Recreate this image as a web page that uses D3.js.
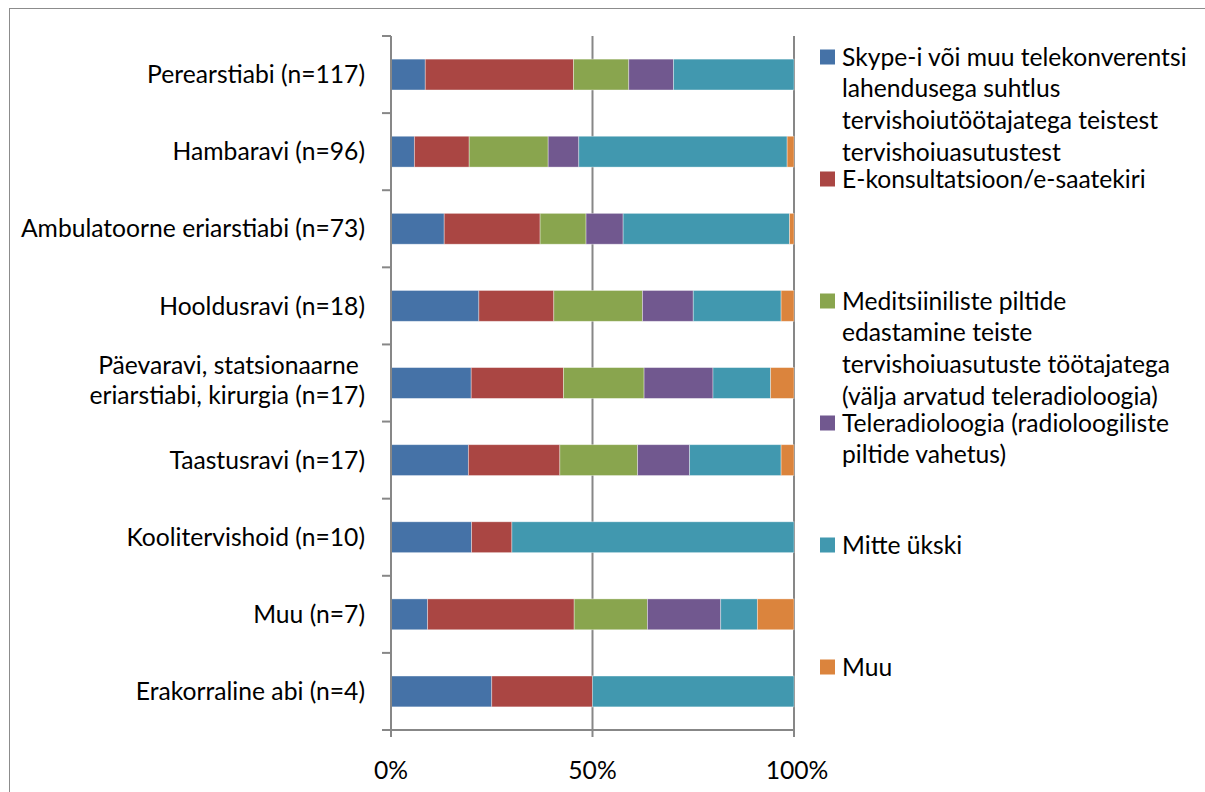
<!DOCTYPE html>
<html><head><meta charset="utf-8">
<script src="https://cdn.jsdelivr.net/npm/d3@7"></script>
<style>
html,body{margin:0;padding:0;background:#fff;}
text{font-family:Lato,"Open Sans",sans-serif;fill:#000;white-space:pre;}
</style></head>
<body><svg id="c" width="1205" height="792"></svg>
<script>
const categories = [
  ["Perearstiabi (n=117)"],
  ["Hambaravi (n=96)"],
  ["Ambulatoorne eriarstiabi (n=73)"],
  ["Hooldusravi (n=18)"],
  ["Päevaravi, statsionaarne ", "eriarstiabi, kirurgia (n=17)"],
  ["Taastusravi (n=17)"],
  ["Koolitervishoid (n=10)"],
  ["Muu (n=7)"],
  ["Erakorraline abi (n=4)"]
];
const seriesNames = [
  "Skype-i või muu telekonverentsi lahendusega suhtlus tervishoiutöötajatega teistest tervishoiuasutustest",
  "E-konsultatsioon/e-saatekiri",
  "Meditsiiniliste piltide edastamine teiste tervishoiuasutuste töötajatega (välja arvatud teleradioloogia)",
  "Teleradioloogia (radioloogiliste piltide vahetus)",
  "Mitte ükski",
  "Muu"
];
const legendLines = [
  ["Skype-i või muu telekonverentsi", "lahendusega suhtlus", "tervishoiutöötajatega teistest", "tervishoiuasutustest"],
  ["E-konsultatsioon/e-saatekiri"],
  ["Meditsiiniliste piltide", "edastamine teiste", "tervishoiuasutuste töötajatega", "(välja arvatud teleradioloogia)"],
  ["Teleradioloogia (radioloogiliste", "piltide vahetus)"],
  ["Mitte ükski"],
  ["Muu"]
];
const skype   = [8.5, 5.8, 13.2, 21.8, 19.9, 19.2, 20, 9.1, 25];
const ekons   = [36.8, 13.6, 23.8, 18.6, 22.9, 22.7, 10, 36.4, 25];
const medits  = [13.7, 19.6, 11.4, 22.0, 20.0, 19.3, 0, 18.2, 0];
const telerad = [11.1, 7.6, 9.2, 12.6, 17.1, 12.9, 0, 18.2, 0];
const mitte   = [29.9, 51.7, 41.3, 21.8, 14.3, 22.7, 70, 9.1, 50];
const muu     = [0, 1.7, 1.1, 3.2, 5.8, 3.2, 0, 9.1, 0];
const xTicks = [0, 0.5, 1];
const xTickLabels = ["0%", "50%", "100%"];
const colors = ["#4572A7", "#AA4643", "#89A54E", "#71588F", "#4198AF", "#DB843D"];

const seriesValues = [skype, ekons, medits, telerad, mitte, muu];
const keys = seriesNames.map((d, i) => "s" + i);
const rows = categories.map((c, i) => {
  const r = {cat: c.join("")};
  keys.forEach((k, j) => r[k] = seriesValues[j][i]);
  return r;
});

const svg = d3.select("#c");
const axisColor = "#878787";

// outer frame (left and top visible)
svg.append("rect").attr("x", 9.5).attr("y", 8.5).attr("width", 1300).attr("height", 900)
  .attr("fill", "none").attr("stroke", "#8c8c8c").attr("stroke-width", 1);

// calibrate font size to match Calibri metrics
const probe = svg.append("text").attr("font-size", 24).text("Perearstiabi (n=117)");
const fs = 24 * 218 / probe.node().getComputedTextLength();
probe.remove();
const lineGap = Math.max(25, fs * 1.22);

const pLeft = 391, pRight = 794, pTop = 36, pBottom = 730;
const x = d3.scaleLinear().domain([0, 1]).range([pLeft, pRight]);
const y = d3.scaleBand().domain(rows.map(r => r.cat)).range([pTop, pBottom]).paddingInner(0.6).paddingOuter(0.3);

const stack = d3.stack().keys(keys).offset(d3.stackOffsetExpand);
const stacked = stack(rows);

// gridlines
svg.append("g").selectAll("line").data(xTicks.filter(t => t > 0)).join("line")
  .attr("x1", d => x(d)).attr("x2", d => x(d)).attr("y1", pTop).attr("y2", pBottom)
  .attr("stroke", axisColor).attr("stroke-width", 2);

// bars
svg.append("g").selectAll("g").data(stacked).join("g")
  .attr("fill", (d, i) => colors[i])
  .selectAll("rect").data(d => d.filter(s => s[1] - s[0] > 0)).join("rect")
  .attr("x", d => x(d[0])).attr("width", d => x(d[1]) - x(d[0]))
  .attr("y", d => y(d.data.cat)).attr("height", y.bandwidth())
  .attr("stroke", "rgba(255,255,255,0.45)").attr("stroke-width", 0.8);

// y axis line and ticks at band boundaries
const bounds = d3.range(categories.length + 1).map(i => pTop + i * (pBottom - pTop) / categories.length);
svg.append("line").attr("x1", pLeft).attr("x2", pLeft).attr("y1", pTop).attr("y2", pBottom + 6)
  .attr("stroke", axisColor).attr("stroke-width", 2);
svg.append("g").selectAll("line").data(bounds).join("line")
  .attr("x1", pLeft - 9).attr("x2", pLeft).attr("y1", d => d).attr("y2", d => d)
  .attr("stroke", axisColor).attr("stroke-width", 2);

// x axis
svg.append("line").attr("x1", pLeft - 9).attr("x2", pRight).attr("y1", pBottom).attr("y2", pBottom)
  .attr("stroke", axisColor).attr("stroke-width", 2);
svg.append("g").selectAll("line").data(xTicks).join("line")
  .attr("x1", d => x(d)).attr("x2", d => x(d)).attr("y1", pBottom).attr("y2", pBottom + 7)
  .attr("stroke", axisColor).attr("stroke-width", 2);
svg.append("g").selectAll("text").data(xTicks).join("text")
  .attr("x", (d, i) => x(d) + (i === 2 ? 3 : 0)).attr("y", 770).attr("dy", "0.35em")
  .attr("text-anchor", "middle").attr("font-size", fs)
  .text((d, i) => xTickLabels[i]);

// y labels
const lab = svg.append("g").selectAll("text").data(categories).join("text")
  .attr("text-anchor", "end").attr("font-size", fs)
  .attr("transform", (d, i) => `translate(365, ${y(rows[i].cat) + y.bandwidth() / 2 - (d.length > 1 ? 2.5 : 0)})`);
lab.selectAll("tspan").data(d => d).join("tspan")
  .attr("x", 0)
  .attr("y", (t, j, nodes) => (j - (nodes.length - 1) / 2) * lineGap)
  .attr("dy", "0.35em")
  .text(t => t);

// legend
const leg = svg.append("g").selectAll("g").data(legendLines).join("g")
  .attr("transform", (d, i) => `translate(820, ${57 + i * 122})`);
leg.append("rect").attr("x", 0).attr("y", -7.5).attr("width", 15).attr("height", 15)
  .attr("fill", (d, i) => colors[i]);
leg.append("text").attr("font-size", fs)
  .selectAll("tspan").data(d => d).join("tspan")
  .attr("x", 22).attr("y", (t, j) => j * 31.7).attr("dy", "0.35em").text(t => t);
</script></body></html>
